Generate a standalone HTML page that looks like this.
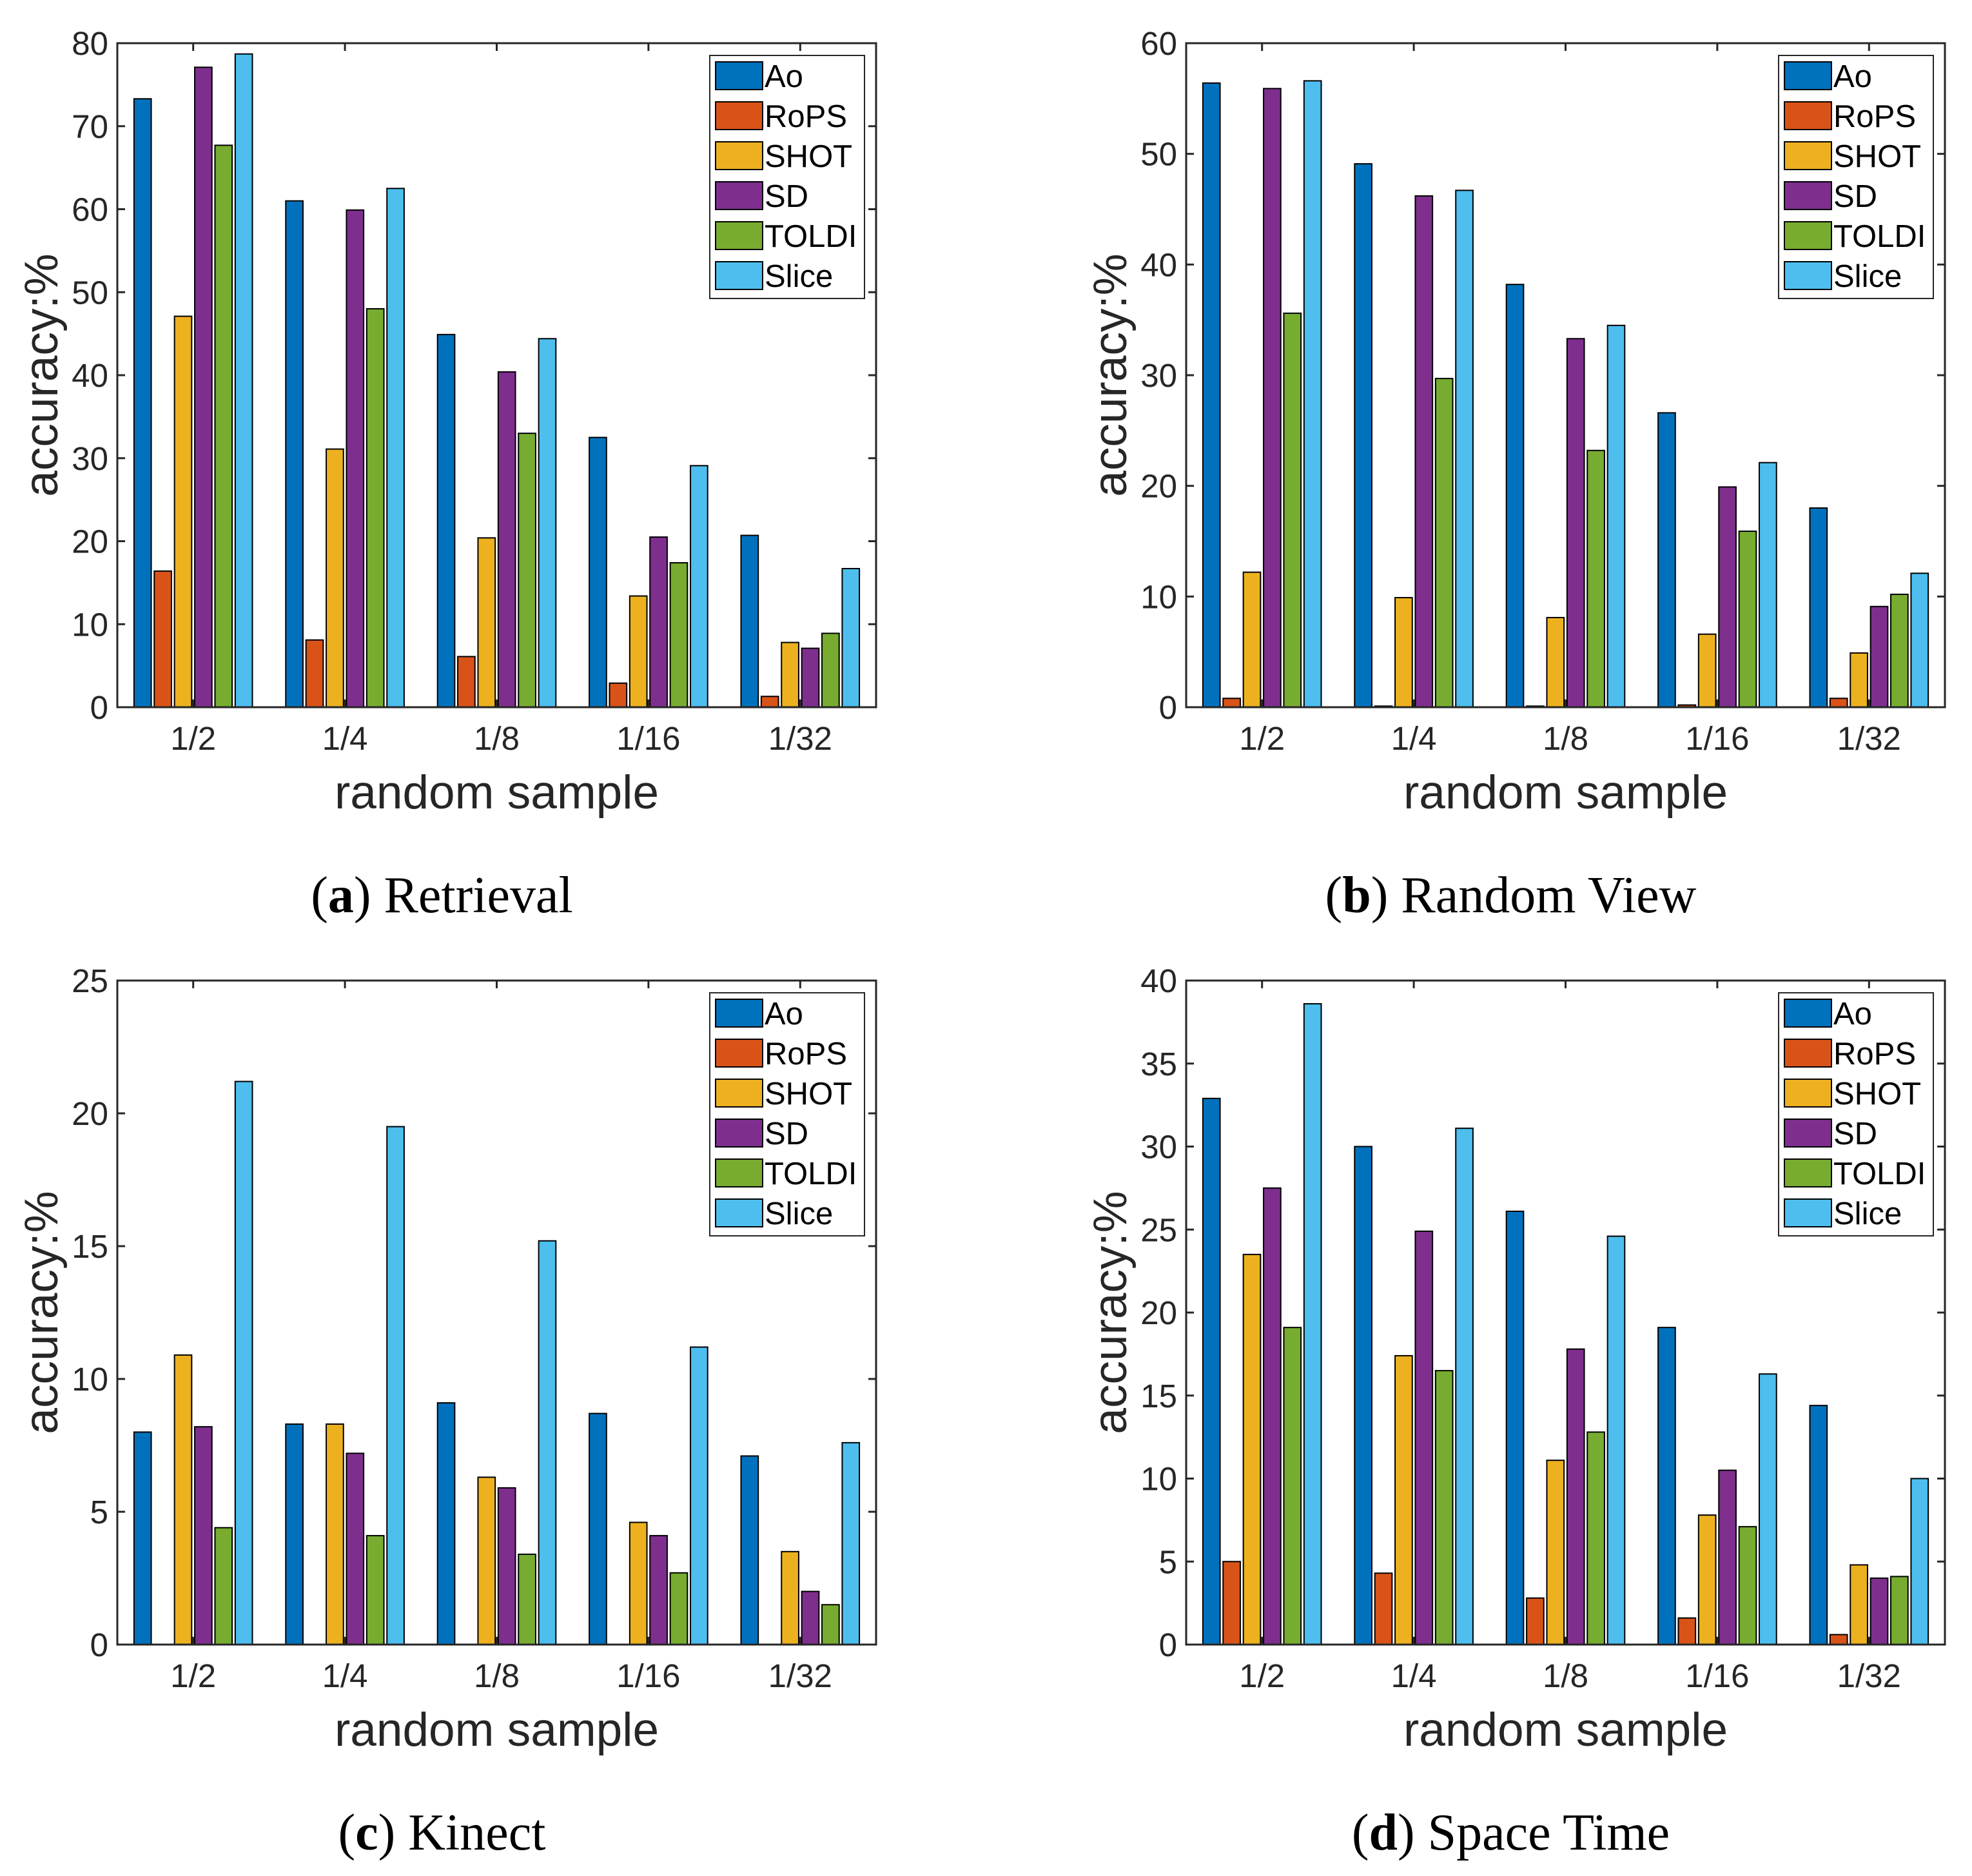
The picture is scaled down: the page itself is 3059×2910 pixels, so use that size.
<!DOCTYPE html>
<html><head><meta charset="utf-8"><style>
html,body{margin:0;padding:0;background:#fff}
svg{display:block}
</style></head><body>
<svg id="fig" width="3059" height="2910" viewBox="0 0 3059 2910" xmlns="http://www.w3.org/2000/svg"></svg>
<script>
const categories = ["1/2","1/4","1/8","1/16","1/32"];
const seriesNames = ["Ao","RoPS","SHOT","SD","TOLDI","Slice"];
const colors = ["#0072BD","#D95319","#EDB120","#7E2F8E","#77AC30","#4DBEEE"];
// Panel (a) Retrieval
const aAo=[73.3,61,44.9,32.5,20.7];
const aRoPS=[16.4,8.1,6.1,2.9,1.3];
const aSHOT=[47.1,31.1,20.4,13.4,7.8];
const aSD=[77.1,59.9,40.4,20.5,7.1];
const aTOLDI=[67.7,48,33,17.4,8.9];
const aSlice=[78.7,62.5,44.4,29.1,16.7];
const aTicks=[0,10,20,30,40,50,60,70,80];
// Panel (b) Random View
const bAo=[56.4,49.1,38.2,26.6,18];
const bRoPS=[0.8,0.1,0.1,0.2,0.8];
const bSHOT=[12.2,9.9,8.1,6.6,4.9];
const bSD=[55.9,46.2,33.3,19.9,9.1];
const bTOLDI=[35.6,29.7,23.2,15.9,10.2];
const bSlice=[56.6,46.7,34.5,22.1,12.1];
const bTicks=[0,10,20,30,40,50,60];
// Panel (c) Kinect
const cAo=[8,8.3,9.1,8.7,7.1];
const cRoPS=[0,0,0,0,0];
const cSHOT=[10.9,8.3,6.3,4.6,3.5];
const cSD=[8.2,7.2,5.9,4.1,2];
const cTOLDI=[4.4,4.1,3.4,2.7,1.5];
const cSlice=[21.2,19.5,15.2,11.2,7.6];
const cTicks=[0,5,10,15,20,25];
// Panel (d) Space Time
const dAo=[32.9,30,26.1,19.1,14.4];
const dRoPS=[5,4.3,2.8,1.6,0.6];
const dSHOT=[23.5,17.4,11.1,7.8,4.8];
const dSD=[27.5,24.9,17.8,10.5,4];
const dTOLDI=[19.1,16.5,12.8,7.1,4.1];
const dSlice=[38.6,31.1,24.6,16.3,10];
const dTicks=[0,5,10,15,20,25,30,35,40];

const NS="http://www.w3.org/2000/svg";
const svg=document.getElementById('fig');
function mk(tag,attrs,parent){const e=document.createElementNS(NS,tag);for(const k in attrs)e.setAttribute(k,attrs[k]);(parent||svg).appendChild(e);return e;}

const panels=[
 {id:'a',x:182,y:67,series:[aAo,aRoPS,aSHOT,aSD,aTOLDI,aSlice],ticks:aTicks,capB:'a',cap:'Retrieval'},
 {id:'b',x:1840,y:67,series:[bAo,bRoPS,bSHOT,bSD,bTOLDI,bSlice],ticks:bTicks,capB:'b',cap:'Random View'},
 {id:'c',x:182,y:1521,series:[cAo,cRoPS,cSHOT,cSD,cTOLDI,cSlice],ticks:cTicks,capB:'c',cap:'Kinect'},
 {id:'d',x:1840,y:1521,series:[dAo,dRoPS,dSHOT,dSD,dTOLDI,dSlice],ticks:dTicks,capB:'d',cap:'Space Time'}
];
const W=1177,H=1030;
const FONT='Liberation Sans, Arial, sans-serif';
panels.forEach(p=>{
  const g=mk('g',{});
  
  
  const ymax=p.ticks[p.ticks.length-1];
  const ys=v=>p.y+H-v/ymax*H;
  const step=W/categories.length;
  const xs=i=>p.x+step*(i+0.5);
  const n=seriesNames.length, gw=0.8*step, pitch=gw/n, bw=pitch*0.85;
  p.series.forEach((arr,s)=>{
    arr.forEach((v,i)=>{
      const cx=xs(i)-gw/2+pitch*(s+0.5);
      const r=mk('rect',{x:cx-bw/2,y:ys(v),width:bw,height:Math.max(0,ys(0)-ys(v)),fill:colors[s],stroke:'#000','stroke-width':2},g);
      
      
    });
  });
  const box=mk('rect',{x:p.x,y:p.y,width:W,height:H,fill:'none',stroke:'#262626','stroke-width':3},g);
  
  
  p.ticks.forEach(t=>{
    const y=ys(t);
    mk('line',{x1:p.x,x2:p.x+12,y1:y,y2:y,stroke:'#262626','stroke-width':3},g);
    mk('line',{x1:p.x+W,x2:p.x+W-12,y1:y,y2:y,stroke:'#262626','stroke-width':3},g);
    const tx=mk('text',{x:p.x-14,y:y+18,'text-anchor':'end','font-size':51,fill:'#262626','font-family':FONT},g);
    tx.textContent=t;
    
    
  });
  categories.forEach((c,i)=>{
    const x=xs(i);
    mk('line',{x1:x,x2:x,y1:p.y+H,y2:p.y+H-12,stroke:'#262626','stroke-width':3},g);
    mk('line',{x1:x,x2:x,y1:p.y,y2:p.y+12,stroke:'#262626','stroke-width':3},g);
    const tx=mk('text',{x:x,y:p.y+H+66,'text-anchor':'middle','font-size':51,fill:'#262626','font-family':FONT},g);
    tx.textContent=c;
    
    
  });
  const xt=mk('text',{x:p.x+W/2,y:p.y+H+157,'text-anchor':'middle','font-size':73,fill:'#262626','font-family':FONT},g);
  xt.textContent='random sample';
  
  
  const yt=mk('text',{x:0,y:0,'text-anchor':'middle','font-size':73,fill:'#262626','font-family':FONT,transform:`translate(${p.x-93},${p.y+H/2}) rotate(-90)`},g);
  yt.textContent='accuracy:%';
  
  
  const lx=p.x+W-258, ly=p.y+19;
  const lg=mk('g',{},g);
  
  
  mk('rect',{x:lx,y:ly,width:240,height:377,fill:'#fff',stroke:'#262626','stroke-width':2},lg);
  seriesNames.forEach((s,k)=>{
    const ey=ly+10+k*62;
    const e=mk('g',{},lg);
    
    
    mk('rect',{x:lx+9,y:ey,width:73,height:43,fill:colors[k],stroke:'#000','stroke-width':2},e);
    const t=mk('text',{x:lx+85,y:ey+39,'font-size':49,fill:'#000','font-family':FONT},e);
    t.textContent=s;
  });
  const cp=mk('text',{x:p.x+W/2-85,y:p.y+H+318,'text-anchor':'middle','font-size':80,fill:'#000','font-family':'Liberation Serif, Times New Roman, serif'},g);
  
  
  const t1=mk('tspan',{},cp);t1.textContent='(';
  const t2=mk('tspan',{'font-weight':'bold'},cp);t2.textContent=p.capB;
  const t3=mk('tspan',{},cp);t3.textContent=') '+p.cap;
});
</script>
</body></html>
